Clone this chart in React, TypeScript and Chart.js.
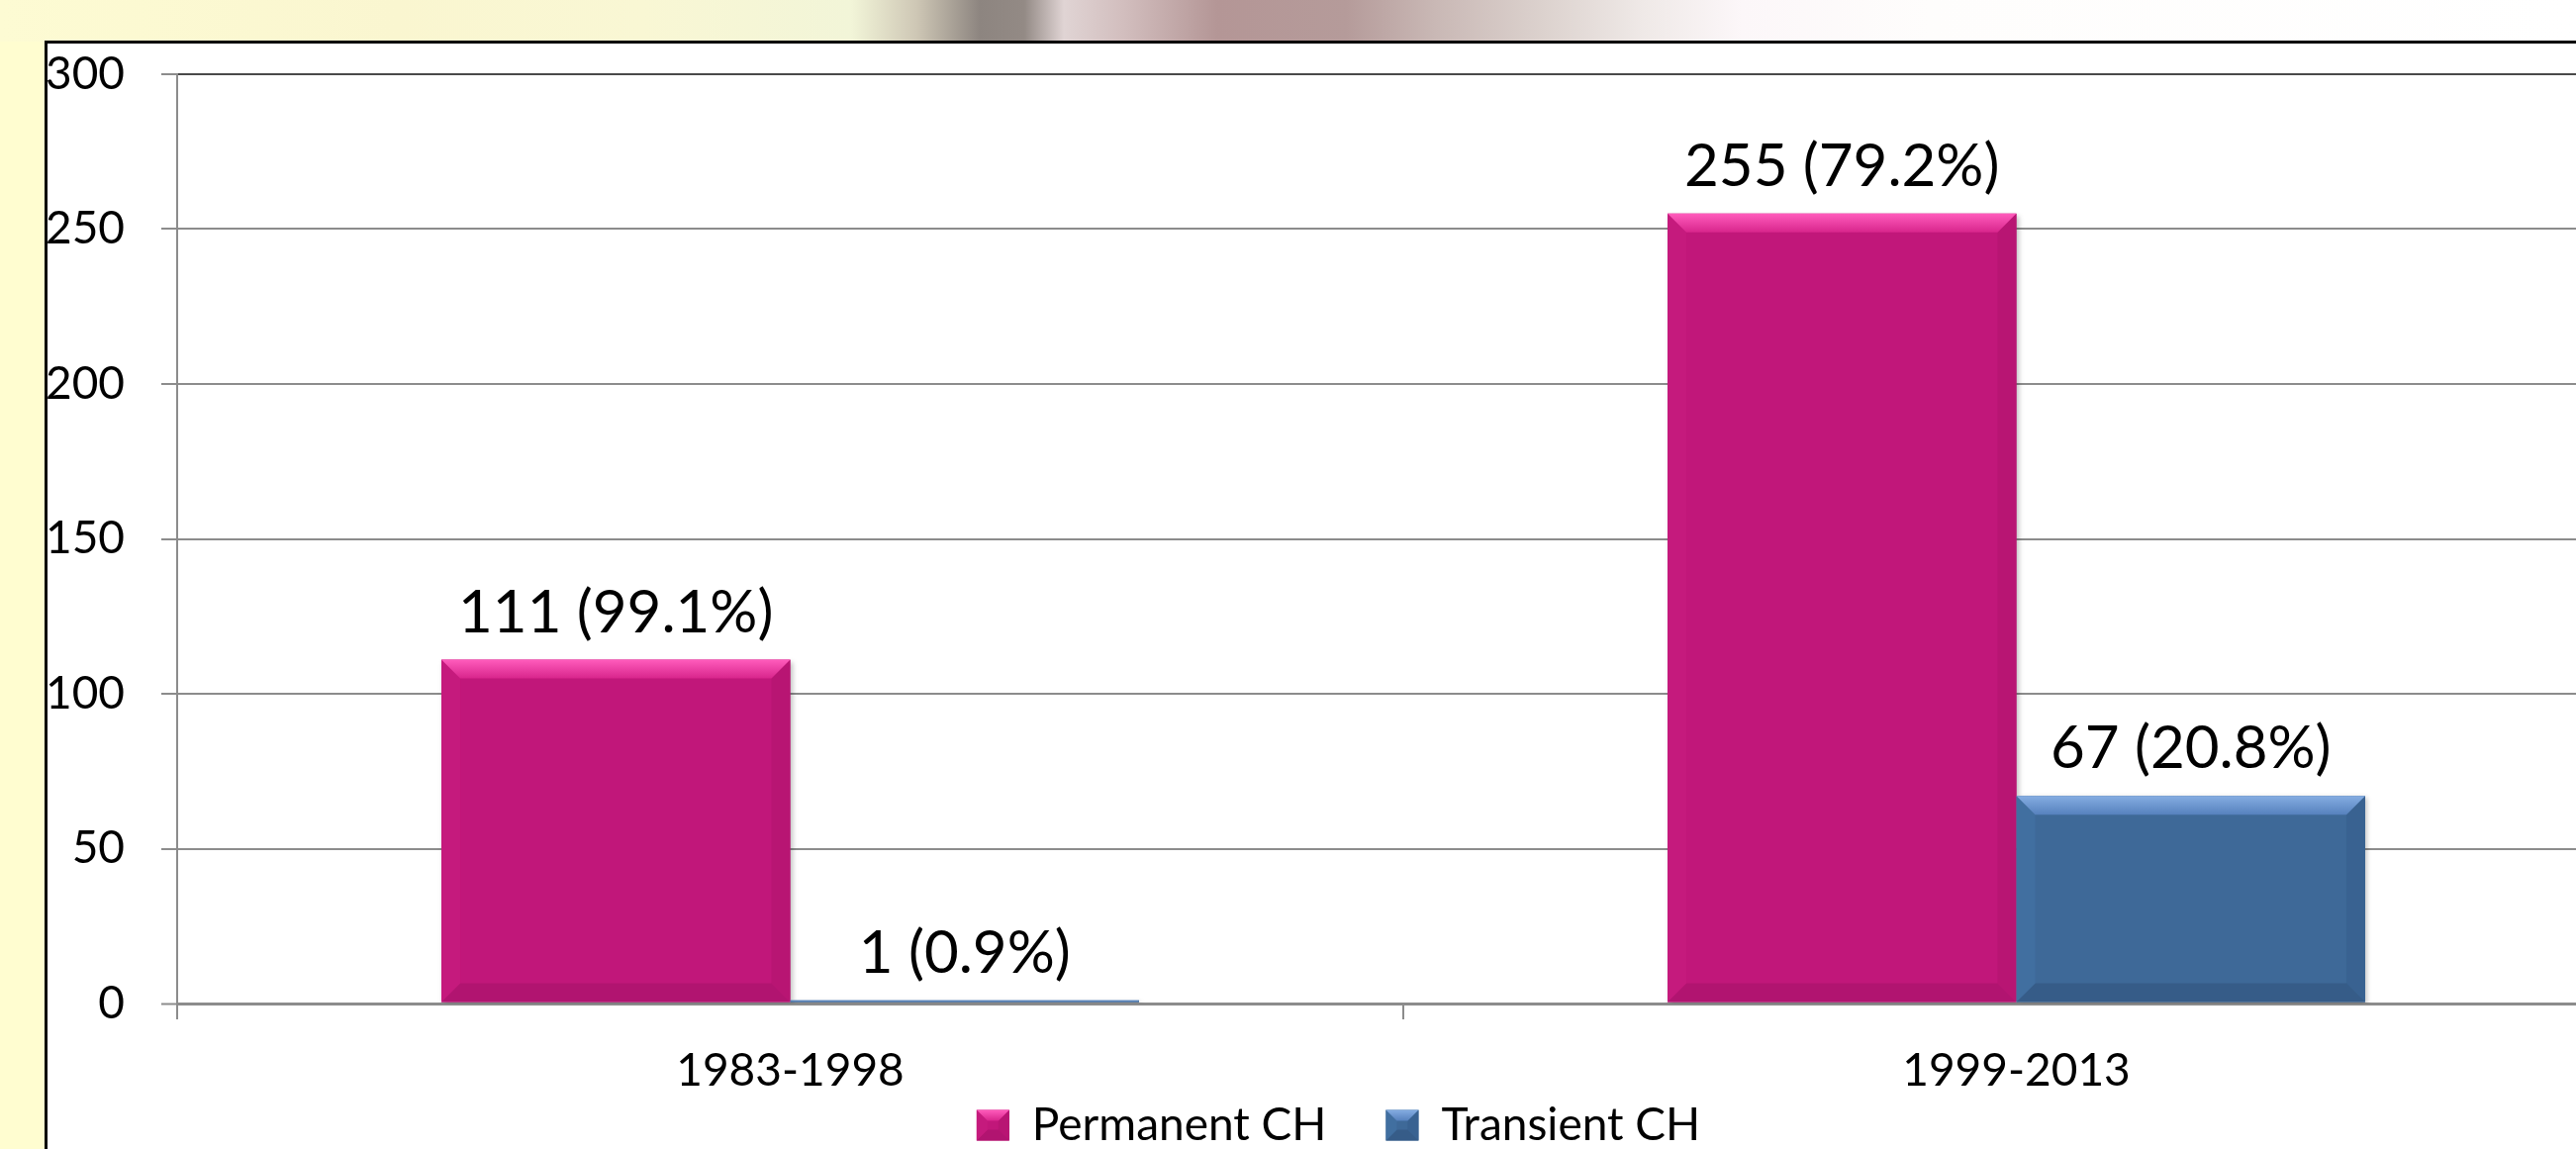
import React, { useEffect, useRef } from "react";
import { Chart, registerables } from "chart.js";

Chart.register(...registerables);

const categories = ["1983-1998", "1999-2013"];
const seriesNames = ["Permanent CH", "Transient CH"];
const permanentValues = [111, 255];
const transientValues = [1, 67];
const permanentPct = [99.1, 79.2];
const transientPct = [0.9, 20.8];
const yMin = 0;
const yMax = 300;
const yStep = 50;

const PINK = "#C1177A";
const BLUE = "#3E6998";
const FONT = "Lato";

const bevelStyles = [
  { top0: "#FF5CBC", top1: "#D8258C", left: "#C51A7D", right: "#B81573", bottom: "#B11470" },
  { top0: "#85ADE2", top1: "#5681BD", left: "#416FA0", right: "#396291", bottom: "#365C88" },
];

const pctArrays = [permanentPct, transientPct];

function poly(ctx: CanvasRenderingContext2D, pts: number[][], fill: any) {
  ctx.beginPath();
  ctx.moveTo(pts[0][0], pts[0][1]);
  for (let i = 1; i < pts.length; i++) ctx.lineTo(pts[i][0], pts[i][1]);
  ctx.closePath();
  ctx.fillStyle = fill;
  ctx.fill();
}

function drawBevel(ctx: CanvasRenderingContext2D, l: number, t: number, r: number, b: number, size: number, sty: any) {
  const w = r - l;
  const h = b - t;
  const s = Math.min(size, h / 2, w / 2);
  if (s <= 0.5) return;
  const g = ctx.createLinearGradient(0, t, 0, t + s);
  g.addColorStop(0, sty.top0);
  g.addColorStop(1, sty.top1);
  poly(ctx, [[r, t], [r, b], [r - s, b - s], [r - s, t + s]], sty.right);
  poly(ctx, [[l, b], [r, b], [r - s, b - s], [l + s, b - s]], sty.bottom);
  poly(ctx, [[l, t], [l + s, t + s], [l + s, b - s], [l, b]], sty.left);
  poly(ctx, [[l, t], [r, t], [r - s, t + s], [l + s, t + s]], g);
}

const barDecorPlugin = {
  id: "barDecor",
  afterLayout(chart: any) {
    const xs = chart.scales.x;
    if (xs) xs.bottom = chart.height;
  },
  beforeDatasetsDraw(chart: any) {
    const ctx = chart.ctx;
    ctx.save();
    ctx.shadowColor = "rgba(0,0,0,0.25)";
    ctx.shadowBlur = 5;
    ctx.shadowOffsetX = 2;
    ctx.shadowOffsetY = 2;
  },
  afterDatasetsDraw(chart: any) {
    const ctx = chart.ctx;
    ctx.restore();
    ctx.save();
    chart.data.datasets.forEach((ds: any, di: number) => {
      const meta = chart.getDatasetMeta(di);
      meta.data.forEach((bar: any, i: number) => {
        const p = bar.getProps(["x", "y", "base", "width"], true);
        const l = p.x - p.width / 2;
        const r = p.x + p.width / 2;
        const t = Math.min(p.y, p.base);
        const b = Math.max(p.y, p.base);
        drawBevel(ctx, l, t, r, b, 19, bevelStyles[di]);
        const v = ds.data[i];
        const text = `${v} (${pctArrays[di][i].toFixed(1)}%)`;
        ctx.fillStyle = "#000";
        ctx.font = `60px ${FONT}`;
        ctx.textAlign = "center";
        ctx.textBaseline = "alphabetic";
        ctx.fillText(text, p.x, t - 28);
      });
    });
    ctx.restore();
  },
  afterDraw(chart: any) {
    const legend = chart.legend;
    if (!legend || !legend.legendHitBoxes) return;
    const ctx = chart.ctx;
    ctx.save();
    legend.legendHitBoxes.forEach((hb: any, i: number) => {
      const bw = 33;
      const bh = 31;
      const y = hb.top + Math.max((46 - bh) / 2, 0);
      drawBevel(ctx, hb.left, y, hb.left + bw, y + bh, 11, bevelStyles[i]);
    });
    ctx.restore();
  },
};

export default function App() {
  const ref = useRef<HTMLCanvasElement | null>(null);

  useEffect(() => {
    if (!ref.current) return;
    const chart = new Chart(ref.current, {
      type: "bar",
      data: {
        labels: categories,
        datasets: [
          {
            label: seriesNames[0],
            data: permanentValues,
            backgroundColor: PINK,
            borderWidth: 0,
            categoryPercentage: 0.569,
            barPercentage: 1,
          },
          {
            label: seriesNames[1],
            data: transientValues,
            backgroundColor: BLUE,
            borderWidth: 0,
            categoryPercentage: 0.569,
            barPercentage: 1,
          },
        ],
      },
      options: {
        responsive: false,
        animation: false,
        devicePixelRatio: 1,
        layout: { padding: { top: 31, right: 10, bottom: 0, left: 0 } },
        plugins: {
          legend: {
            position: "bottom",
            labels: {
              font: { family: FONT, size: 46 },
              color: "#000",
              boxWidth: 33,
              boxHeight: 31,
              padding: 60,
            },
          },
          tooltip: { enabled: false },
        },
        scales: {
          x: {
            offset: true,
            grid: {
              offset: true,
              drawOnChartArea: false,
              drawTicks: true,
              tickLength: 16,
              color: "#8c8c8c",
              lineWidth: 2,
            },
            border: { display: true, color: "#8c8c8c", width: 3 },
            ticks: {
              font: { family: FONT, size: 46 },
              color: "#000",
              padding: 25,
              maxRotation: 0,
              autoSkip: false,
            },
            afterFit: (s: any) => {
              s.height = 40;
            },
          },
          y: {
            min: yMin,
            max: yMax,
            ticks: {
              stepSize: yStep,
              font: { family: FONT, size: 46 },
              color: "#000",
              padding: 37,
            },
            grid: {
              color: (c: any) => (c.tick && c.tick.value === yMax ? "#4a4a4a" : "#8c8c8c"),
              lineWidth: (c: any) => (c.tick && c.tick.value === yMin ? 3 : 2),
              tickLength: 16,
              tickColor: "#8c8c8c",
              tickWidth: 2,
            },
            border: { display: true, color: "#8c8c8c", width: 2 },
            afterFit: (s: any) => {
              s.width = 131;
              s.paddingTop = 0;
              s.paddingBottom = 0;
            },
          },
        },
      },
      plugins: [barDecorPlugin],
    } as any);
    return () => chart.destroy();
  }, []);

  return (
    <div
      style={{
        position: "fixed",
        left: 0,
        top: 0,
        width: 2603,
        height: 1161,
        overflow: "hidden",
        background: "#FFFDD0",
      }}
    >
      <div
        style={{
          position: "absolute",
          left: 0,
          top: 0,
          width: 2603,
          height: 42,
          background:
            "linear-gradient(to right, #FDFBD3 0px, #FAF6D0 400px, #F9F7D4 650px, #F2F5D8 860px, #CFC8B6 925px, #8D8580 990px, #938A85 1035px, #E0D4D4 1075px, #D2BEBE 1135px, #B49696 1230px, #B59B9A 1360px, #C9B8B5 1450px, #DCD2CE 1560px, #EFE9E7 1660px, #FCF7F9 1760px, #FEFDFC 1950px, #FFFFFF 2603px)",
        }}
      />
      <div
        style={{
          position: "absolute",
          left: 45,
          top: 41,
          width: 2700,
          height: 1200,
          background: "#FFFFFF",
          borderLeft: "3px solid #000",
          borderTop: "3px solid #000",
        }}
      >
        <canvas
          ref={ref}
          width={2619}
          height={1126}
          style={{ position: "absolute", left: 0, top: 0, width: 2619, height: 1126 }}
        />
      </div>
    </div>
  );
}
